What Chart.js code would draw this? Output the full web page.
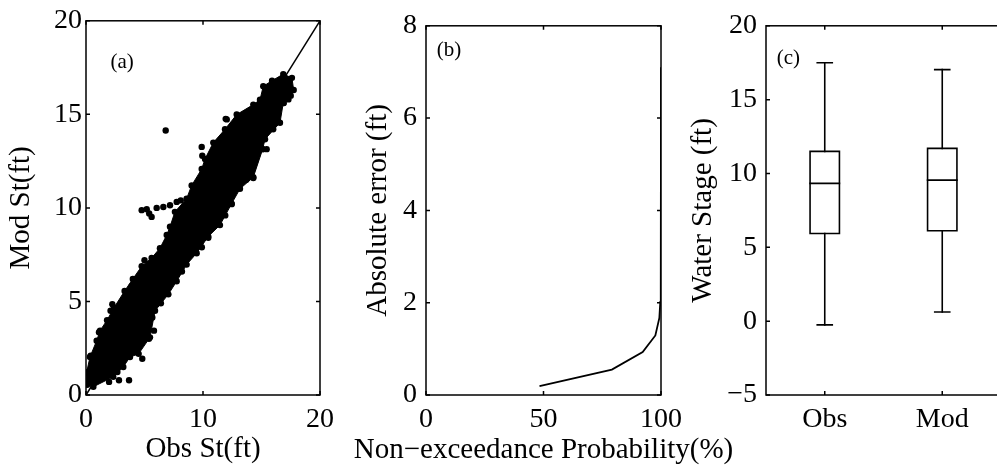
<!DOCTYPE html>
<html>
<head>
<meta charset="utf-8">
<script src="https://cdn.jsdelivr.net/npm/chart.js@4.4.0/dist/chart.umd.min.js"></script>
<style>
html, body { margin: 0; padding: 0; background: #fff; overflow: hidden; }
#wrap { position: relative; width: 997px; height: 470px; overflow: hidden; }
canvas { position: absolute; left: 0; top: 0; }
</style>
</head>
<body>
<div id="wrap">
  <canvas id="chartA" width="997" height="470"></canvas>
  <canvas id="chartB" width="997" height="470"></canvas>
  <canvas id="chartC" width="1010" height="470"></canvas>
</div>
<script>
// --- DATA ---
// (a) Mod vs Obs: outline of the dense cloud (traced), then the loose points
const cloudObs = [0.0, 0.05, 0.34, 0.91, 1.2, 1.8, 2.4, 3.3, 4.0, 4.76, 5.61, 6.32, 6.9, 7.18, 7.6, 8.6, 9.03, 9.89, 10.17, 10.88, 11.88, 12.88, 14.3, 14.87, 15.15, 15.9, 16.86, 17.6,
                  17.75, 17.3, 16.86, 16.58, 15.3, 15.1, 14.3, 13.16, 12.45, 11.45, 10.45, 9.46, 8.6, 7.75, 7.04, 5.9, 5.47, 4.5, 3.76, 3.19, 2.33, 0.63, 0.1, 0.0];
const cloudMod = [0.6, 1.2, 2.03, 2.9, 3.44, 4.0, 4.67, 5.56, 6.2, 6.88, 7.32, 7.85, 8.55, 8.99, 9.79, 10.49, 11.2, 12.08, 12.61, 13.49, 14.2, 14.99, 15.52, 15.78, 16.5, 16.8, 17.15, 16.95,
                  16.3, 15.8, 15.61, 14.55, 13.67, 13.14, 11.64, 11.02, 10.23, 9.08, 8.47, 7.58, 6.97, 6.08, 5.38, 4.5, 3.08, 2.2, 2.03, 1.5, 0.97, 0.44, 0.55, 0.6];
const looseObs = [6.81, 4.76, 5.19, 5.4, 5.61, 6.04, 6.61, 7.18, 7.75, 11.94, 12.03, 9.89, 9.94, 3.9, 2.25, 2.1, 1.11, 0.4, 0.1, 0.0,
                  1.97, 2.82, 3.68, 2.68, 4.81, 4.1, 5.38, 5.81, 5.67, 5.96, 10.45, 12.45, 14.3, 15.1, 15.44, 16.9,
                  13.7, 11.9, 9.9, 8.2, 6.4, 16.0, 17.5, 8.1, 5.0];
const looseMod = [14.14, 9.88, 9.93, 9.7, 9.52, 10.0, 10.05, 10.14, 10.32, 14.76, 14.73, 13.26, 12.79, 5.82, 4.85, 4.5, 3.35, 2.1, 1.23, 0.63,
                  0.7, 0.79, 0.79, 1.23, 1.94, 2.29, 3.0, 3.44, 4.14, 4.94, 8.4, 10.2, 11.6, 13.14, 13.14, 15.6,
                  11.5, 9.6, 7.9, 6.6, 4.9, 14.2, 16.0, 10.4, 7.2];
const oneToOne = [0, 20];
const ticksAx = [0, 10, 20];
const ticksAy = [0, 5, 10, 15, 20];

// (b) absolute error vs non-exceedance probability
const probPct = [48.3, 79.1, 92.2, 97.6, 99.3, 99.7, 99.9, 100];
const absErr = [0.19, 0.55, 0.93, 1.29, 1.67, 2.02, 2.4, 7.1];
const ticksBx = [0, 50, 100];
const ticksBy = [0, 2, 4, 6, 8];

// (c) box plot of water stage
const boxNames = ['Obs', 'Mod'];
const boxMin = [-0.25, 0.62];
const boxQ1 = [5.94, 6.12];
const boxMed = [9.33, 9.55];
const boxQ3 = [11.5, 11.7];
const boxMax = [17.5, 17.03];
const ticksCy = [-5, 0, 5, 10, 15, 20];

// --- STYLE ---
const FONT = 'Liberation Serif, "Times New Roman", serif';
const tickFont = { family: FONT, size: 28 };
const titleFont = { family: FONT, size: 29 };
const BOX_W = 0.125;
const CAP_W = 0.064;

// frame on all 4 sides, ticks pointing inward, panel letter
const frameTicks = {
    id: 'frameTicks',
    afterDatasetsDraw(chart, args, opts) {
        const { ctx, chartArea: a, scales: { x, y } } = chart;
        ctx.save();
        ctx.strokeStyle = '#000';
        ctx.lineWidth = 1.5;
        ctx.strokeRect(a.left, a.top, a.right - a.left, a.bottom - a.top);
        const len = 4;
        ctx.beginPath();
        x.ticks.forEach(t => {
            const px = x.getPixelForValue(t.value);
            ctx.moveTo(px, a.bottom); ctx.lineTo(px, a.bottom - len);
            ctx.moveTo(px, a.top); ctx.lineTo(px, a.top + len);
        });
        y.ticks.forEach(t => {
            const py = y.getPixelForValue(t.value);
            ctx.moveTo(a.left, py); ctx.lineTo(a.left + len, py);
            ctx.moveTo(a.right, py); ctx.lineTo(a.right - len, py);
        });
        ctx.stroke();
        ctx.fillStyle = '#000';
        ctx.textAlign = 'center';
        ctx.textBaseline = 'middle';
        if (opts.text) {
            ctx.font = '21px ' + FONT;
            ctx.fillText(opts.text, x.getPixelForValue(opts.x), y.getPixelForValue(opts.y));
        }
        // long x title that the scale would squeeze into the plot width
        if (opts.xTitle) {
            ctx.font = titleFont.size + 'px ' + FONT;
            ctx.fillText(opts.xTitle, (a.left + a.right) / 2, opts.xTitleY);
        }
        ctx.restore();
    }
};

function pts(xs, ys) {
    return xs.map((v, i) => ({ x: v, y: ys[i] }));
}

function axis(min, max, ticks, pad, size, isX, title, labelFn) {
    return {
        type: 'linear',
        min: min,
        max: max,
        afterBuildTicks: s => { s.ticks = ticks.map(v => ({ value: v })); },
        afterFit: s => { if (isX) s.height = size; else s.width = size; },
        ticks: {
            padding: pad,
            font: tickFont,
            color: '#000',
            autoSkip: false,
            maxRotation: 0,
            callback: labelFn || (v => String(v).replace('-', '\u2212'))
        },
        grid: { display: false, drawTicks: false },
        border: { display: false },
        title: { display: !!title, text: title, font: titleFont, color: '#000', padding: 0 }
    };
}

function baseOptions(pad, xs, ys, frame) {
    return {
        responsive: false,
        animation: false,
        layout: { padding: pad },
        plugins: { legend: { display: false }, tooltip: { enabled: false }, frameTicks: frame },
        scales: { x: xs, y: ys }
    };
}

// --- PANEL (a) ---
new Chart(document.getElementById('chartA'), {
    type: 'line',
    data: {
        datasets: [
            {
                data: pts(oneToOne, oneToOne),
                borderColor: '#000',
                borderWidth: 1.6,
                pointRadius: 0
            },
            {
                data: pts(cloudObs, cloudMod),
                fill: 'shape',
                backgroundColor: '#000',
                borderColor: '#000',
                borderWidth: 1,
                pointRadius: 3.2,
                pointBackgroundColor: '#000',
                pointBorderWidth: 0,
                tension: 0
            },
            {
                data: pts(looseObs, looseMod),
                showLine: false,
                pointRadius: 3.2,
                pointBackgroundColor: '#000',
                pointBorderWidth: 0
            }
        ]
    },
    options: baseOptions({ left: 4, right: 677, top: 17, bottom: 3 },
        axis(0, 20, ticksAx, 8, 72, true, 'Obs St(ft)'),
        axis(0, 20, ticksAy, 4, 82, false, 'Mod St(ft)'),
        { text: '(a)', x: 3.08, y: 17.75 }),
    plugins: [frameTicks]
});

// --- PANEL (b) ---
new Chart(document.getElementById('chartB'), {
    type: 'line',
    data: {
        datasets: [{
            data: pts(probPct, absErr),
            borderColor: '#000',
            borderWidth: 1.8,
            pointRadius: 0,
            tension: 0
        }]
    },
    options: baseOptions({ left: 361, right: 336, top: 17, bottom: 3 },
        axis(0, 100, ticksBx, 8, 72, true, ''),
        axis(0, 8, ticksBy, 9, 65, false, 'Absolute error (ft)'),
        { text: '(b)', x: 9.8, y: 7.46, xTitle: 'Non\u2212exceedance Probability(%)', xTitleY: 450.2 }),
    plugins: [frameTicks]
});

// --- PANEL (c) ---
const boxSets = [];
boxNames.forEach((name, i) => {
    const p = i + 1;
    const segs = [
        [[p - BOX_W, boxQ1[i]], [p + BOX_W, boxQ1[i]], [p + BOX_W, boxQ3[i]], [p - BOX_W, boxQ3[i]], [p - BOX_W, boxQ1[i]]],
        [[p - BOX_W, boxMed[i]], [p + BOX_W, boxMed[i]]],
        [[p, boxQ3[i]], [p, boxMax[i]]],
        [[p - CAP_W, boxMax[i]], [p + CAP_W, boxMax[i]]],
        [[p, boxQ1[i]], [p, boxMin[i]]],
        [[p - CAP_W, boxMin[i]], [p + CAP_W, boxMin[i]]]
    ];
    segs.forEach(s => boxSets.push({
        data: s.map(([x, y]) => ({ x: x, y: y })),
        borderColor: '#000',
        borderWidth: 1.6,
        borderCapStyle: 'square',
        pointRadius: 0,
        tension: 0
    }));
});

new Chart(document.getElementById('chartC'), {
    type: 'line',
    data: { datasets: boxSets },
    options: baseOptions({ left: 686, right: 9, top: 17, bottom: 3 },
        axis(0.5, 2.5, [1, 2], 8, 72, true, '', (v, i) => boxNames[i]),
        axis(-5, 20, ticksCy, 9, 80, false, 'Water Stage (ft)'),
        { text: '(c)', x: 0.69, y: 17.8 }),
    plugins: [frameTicks]
});
</script>
</body>
</html>
